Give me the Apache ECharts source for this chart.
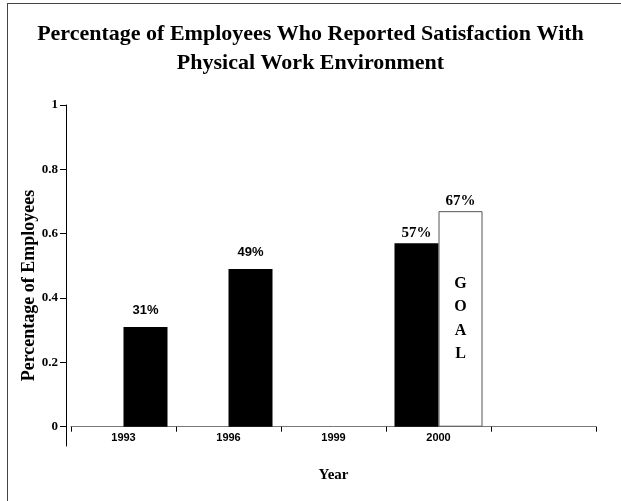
<!DOCTYPE html>
<html>
<head>
<meta charset="utf-8">
<script src="https://cdn.jsdelivr.net/npm/echarts@6/dist/echarts.min.js"></script>
<style>
  html, body { margin: 0; padding: 0; background: #fff; }
  #chart { width: 621px; height: 501px; }
</style>
</head>
<body>
<div id="chart"></div>
<script>
// Survey years on the category axis (the last slot is left empty)
const years = ['1993', '1996', '1999', '2000', ''];
// Left bar in each year group
const leftBar = [null, null, null, 0.57, null];
// Right bar in each year group; the 2000 entry is the goal
const rightBar = [0.31, 0.49, null, 0.67, null];
const goalIndex = 3;
// Y axis tick labels
const yTicks = [0, 0.2, 0.4, 0.6, 0.8, 1];

const serif = '"Liberation Serif", "Times New Roman", serif';
const sans = '"Liberation Sans", Arial, sans-serif';

const pct = v => Math.round(v * 100) + '%';

const chart = echarts.init(document.getElementById('chart'), null, { renderer: 'canvas' });

chart.setOption({
  backgroundColor: '#fff',
  animation: false,
  title: {
    text: 'Percentage of Employees Who Reported Satisfaction With\nPhysical Work Environment',
    left: 'center',
    top: 15,
    textStyle: { fontFamily: serif, fontWeight: 'bold', fontSize: 22, lineHeight: 29, color: '#000' }
  },
  graphic: [
    { type: 'line', shape: { x1: 7, y1: 3.5, x2: 621, y2: 3.5 }, style: { stroke: '#444', lineWidth: 1 } },
    { type: 'line', shape: { x1: 7.5, y1: 3, x2: 7.5, y2: 501 }, style: { stroke: '#444', lineWidth: 1 } }
  ],
  grid: { left: 71, right: 25, top: 105, bottom: 55, containLabel: false, outerBoundsMode: 'none' },
  xAxis: {
    type: 'category',
    data: years,
    name: 'Year',
    nameLocation: 'middle',
    nameGap: 22,
    nameMoveOverlap: false,
    nameTextStyle: { fontFamily: serif, fontWeight: 'bold', fontSize: 15, color: '#000' },
    axisLine: { onZero: true, lineStyle: { color: '#777', width: 1 } },
    axisTick: { show: true, length: 5, lineStyle: { color: '#000' } },
    axisLabel: { fontFamily: sans, fontWeight: 'bold', fontSize: 11, color: '#000', margin: -14 },
    splitLine: { show: false }
  },
  yAxis: {
    type: 'value',
    min: -0.06,
    max: 1,
    offset: 5,
    name: 'Percentage of Employees',
    nameLocation: 'middle',
    nameGap: 28,
    nameMoveOverlap: false,
    nameTextStyle: { fontFamily: serif, fontWeight: 'bold', fontSize: 18, color: '#000', padding: [0, 20, 0, 0] },
    axisLine: { show: true, lineStyle: { color: '#000', width: 1 } },
    axisTick: { show: true, length: 6, customValues: yTicks, lineStyle: { color: '#000' } },
    axisLabel: {
      customValues: yTicks,
      fontFamily: serif, fontWeight: 'bold', fontSize: 13, color: '#000', margin: 8,
      formatter: v => String(Math.round(v * 10) / 10)
    },
    splitLine: { show: false }
  },
  series: [
    {
      type: 'bar',
      data: leftBar,
      barWidth: 44,
      barGap: '0%',
      itemStyle: { color: '#000' },
      label: {
        show: true, position: 'top', distance: 3,
        formatter: p => pct(p.value),
        fontFamily: serif, fontWeight: 'bold', fontSize: 15, color: '#000'
      }
    },
    {
      type: 'bar',
      stack: 'right',
      data: rightBar.map((v, i) => i === goalIndex
        ? {
            value: v,
            itemStyle: { color: '#fff', borderColor: '#555', borderWidth: 1 },
            label: {
              position: 'inside',
              formatter: 'G\nO\nA\nL',
              fontFamily: serif, fontWeight: 'bold', fontSize: 16, lineHeight: 23.5, color: '#000'
            }
          }
        : v),
      barWidth: 44,
      barGap: '0%',
      itemStyle: { color: '#000' },
      label: {
        show: true, position: 'top', distance: 10,
        formatter: p => pct(p.value),
        fontFamily: sans, fontWeight: 'bold', fontSize: 13, color: '#000'
      }
    },
    {
      // zero-height cap on the goal bar carrying its percentage
      type: 'bar',
      stack: 'right',
      data: rightBar.map((v, i) => i === goalIndex ? 0 : null),
      barWidth: 44,
      barGap: '0%',
      itemStyle: { color: 'transparent' },
      silent: true,
      label: {
        show: true, position: 'top', distance: 3,
        formatter: () => pct(rightBar[goalIndex]),
        fontFamily: serif, fontWeight: 'bold', fontSize: 15, color: '#000'
      }
    }
  ]
});
</script>
</body>
</html>
